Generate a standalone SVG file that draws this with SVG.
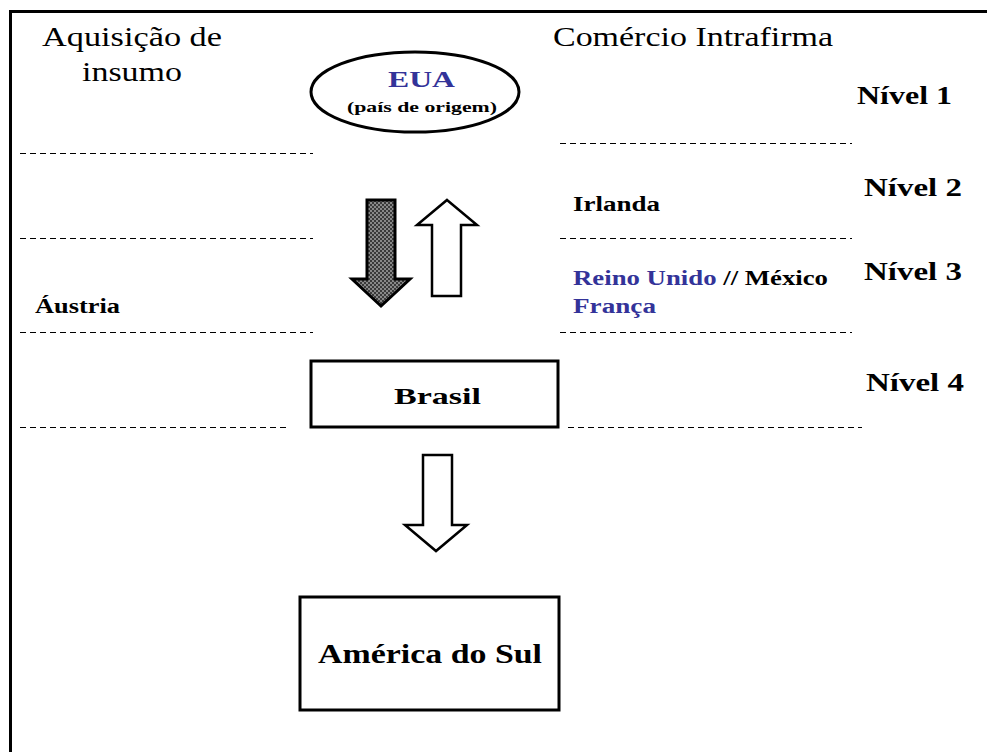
<svg xmlns="http://www.w3.org/2000/svg" width="987" height="752" viewBox="0 0 987 752" font-family="'Liberation Serif', 'Times New Roman', Times, Tinos, 'Nimbus Roman', FreeSerif, 'DejaVu Serif', serif">
<style>
text{font-family:"Liberation Serif","Times New Roman",Times,Tinos,"Nimbus Roman",FreeSerif,"DejaVu Serif",serif;fill:#000}
.h{font-size:28px}
.b{font-weight:bold}
.blue{fill:#333399}
.dash{stroke:#000;stroke-width:1;stroke-dasharray:6 4;fill:none}
.box{fill:#fff;stroke:#000;stroke-width:3}
.arr{fill:#fff;stroke:#000;stroke-width:2.5;stroke-linejoin:miter}
</style>
<defs>
<pattern id="hatch" width="4" height="4" patternUnits="userSpaceOnUse">
<rect width="4" height="4" fill="#3a3a3a"/>
<rect x="0" y="0" width="2" height="2" fill="#888"/>
<rect x="2" y="2" width="2" height="2" fill="#888"/>
</pattern>
</defs>
<rect width="987" height="752" fill="#fff"/>
<g id="frame">
<path d="M10.5 752 V11.5 H987" fill="none" stroke="#000" stroke-width="3"/>
</g>
<g id="headers">
<text class="h" x="42" y="46" textLength="180" lengthAdjust="spacingAndGlyphs">Aquisição de</text>
<text class="h" x="82" y="81" textLength="100" lengthAdjust="spacingAndGlyphs">insumo</text>
<text class="h" x="553" y="46" textLength="280" lengthAdjust="spacingAndGlyphs">Comércio Intrafirma</text>
</g>
<g id="levels">
<text class="b" x="857" y="104" font-size="26" textLength="95" lengthAdjust="spacingAndGlyphs">Nível 1</text>
<text class="b" x="864" y="196" font-size="26" textLength="98" lengthAdjust="spacingAndGlyphs">Nível 2</text>
<text class="b" x="864" y="280" font-size="26" textLength="98" lengthAdjust="spacingAndGlyphs">Nível 3</text>
<text class="b" x="866" y="391" font-size="26" textLength="98" lengthAdjust="spacingAndGlyphs">Nível 4</text>
</g>
<g id="connectors">
<line class="dash" x1="20" y1="153.5" x2="313" y2="153.5"/>
<line class="dash" x1="560" y1="143.5" x2="852" y2="143.5"/>
<line class="dash" x1="20" y1="238.5" x2="313" y2="238.5"/>
<line class="dash" x1="560" y1="238.5" x2="852" y2="238.5"/>
<line class="dash" x1="20" y1="332.5" x2="313" y2="332.5"/>
<line class="dash" x1="560" y1="332.5" x2="852" y2="332.5"/>
<line class="dash" x1="20" y1="427.5" x2="287" y2="427.5"/>
<line class="dash" x1="568" y1="427.5" x2="862" y2="427.5"/>
<path d="M367 200 H395 V279 H410 L381 306 L352 279 H367 Z" fill="url(#hatch)" stroke="#000" stroke-width="3" stroke-linejoin="miter"/>
<path class="arr" d="M447 200 L477 225 H461 V296 H432 V225 H417 Z"/>
<path class="arr" d="M423 455 H452 V525 H467 L436 551 L405 525 H423 Z"/>
</g>
<g id="eua">
<ellipse cx="415" cy="92" rx="104" ry="40" fill="#fff" stroke="#000" stroke-width="3"/>
<text class="b blue" x="388" y="87" font-size="24" textLength="67" lengthAdjust="spacingAndGlyphs">EUA</text>
<text class="b" x="347" y="112" font-size="15" textLength="150" lengthAdjust="spacingAndGlyphs">(país de origem)</text>
</g>
<g id="irlanda">
<text class="b" x="573" y="211" font-size="20" textLength="87" lengthAdjust="spacingAndGlyphs">Irlanda</text>
</g>
<g id="nivel3-paises">
<text class="b" x="573" y="285" font-size="20" textLength="255" lengthAdjust="spacingAndGlyphs"><tspan class="blue">Reino Unido</tspan> // México</text>
<text class="b blue" x="573" y="313" font-size="20" textLength="83" lengthAdjust="spacingAndGlyphs">França</text>
</g>
<g id="austria">
<text class="b" x="35" y="313" font-size="20" textLength="85" lengthAdjust="spacingAndGlyphs">Áustria</text>
</g>
<g id="brasil">
<rect class="box" x="311" y="361" width="247" height="66"/>
<text class="b" x="394" y="404" font-size="24" textLength="87" lengthAdjust="spacingAndGlyphs">Brasil</text>
</g>
<g id="america-do-sul">
<rect class="box" x="300" y="597" width="259" height="113"/>
<text class="b" x="318" y="663" font-size="28" textLength="224" lengthAdjust="spacingAndGlyphs">América do Sul</text>
</g>
</svg>
